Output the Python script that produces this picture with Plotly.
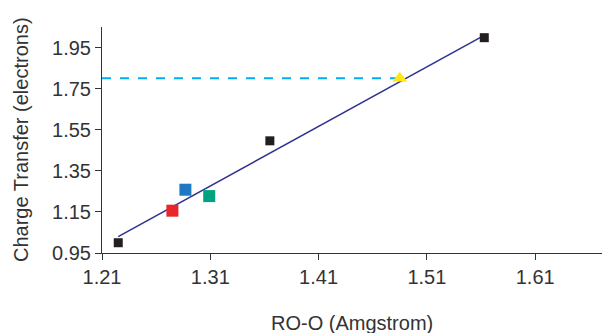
import plotly.graph_objects as go

# Data
black_x = [1.225, 1.365, 1.563]
black_y = [1.00, 1.496, 1.998]
color_x = [1.275, 1.287, 1.309]
color_y = [1.156, 1.258, 1.227]
color_c = ["#E8262B", "#1F78C1", "#00A37F"]
tri_x = [1.485]
tri_y = [1.80]
fit_x = [1.225, 1.565]
fit_y = [1.03, 2.015]
ref_x = [1.21, 1.482]
ref_y = [1.80, 1.80]
x_ticks = [1.21, 1.31, 1.41, 1.51, 1.61]
y_ticks = [0.95, 1.15, 1.35, 1.55, 1.75, 1.95]

fig = go.Figure()
fig.add_trace(go.Scatter(x=ref_x, y=ref_y, mode="lines",
                         line=dict(color="#00AEEF", width=2, dash="dash")))
fig.add_trace(go.Scatter(x=fit_x, y=fit_y, mode="lines",
                         line=dict(color="#2E3192", width=1.5)))
fig.add_trace(go.Scatter(x=black_x, y=black_y, mode="markers",
                         marker=dict(symbol="square", size=9, color="#231F20")))
fig.add_trace(go.Scatter(x=color_x, y=color_y, mode="markers",
                         marker=dict(symbol="square", size=12, color=color_c)))
fig.add_trace(go.Scatter(x=tri_x, y=tri_y, mode="markers",
                         marker=dict(symbol="triangle-up", size=13, color="#FFE617")))

font = dict(family="Liberation Sans, Arial, sans-serif", size=20, color="#333333")
fig.update_layout(
    width=602, height=333,
    margin=dict(l=102, r=0, t=27, b=80),
    paper_bgcolor="white", plot_bgcolor="white",
    showlegend=False,
    font=font,
    xaxis=dict(range=[1.21, 1.6717], tickvals=x_ticks,
               ticktext=[f"{v:.2f}" for v in x_ticks],
               showgrid=False, zeroline=False, showline=True, automargin=False,
               linecolor="#333333", linewidth=1, ticks="outside",
               ticklen=6, tickcolor="#333333", tickfont=font),
    yaxis=dict(range=[0.95, 2.05], tickvals=y_ticks,
               ticktext=[f"{v:.2f}" for v in y_ticks],
               showgrid=False, zeroline=False, showline=True, automargin=False,
               linecolor="#333333", linewidth=1, ticks="outside",
               ticklen=6, tickcolor="#333333", tickfont=font),
    annotations=[
        dict(text="RO-O (Amgstrom)", xref="paper", yref="paper",
             x=0.5, y=(253 - 323) / 226, xanchor="center", yanchor="middle",
             showarrow=False, font=font),
        dict(text="Charge Transfer (electrons)", xref="paper", yref="paper",
             x=(21 - 102) / 500, y=0.5, xanchor="center", yanchor="middle",
             textangle=-90, showarrow=False, font=font),
    ],
)
fig.write_html("out.html", config={"displayModeBar": False},
               post_script="document.body.style.margin='0';document.body.style.overflow='hidden';")
